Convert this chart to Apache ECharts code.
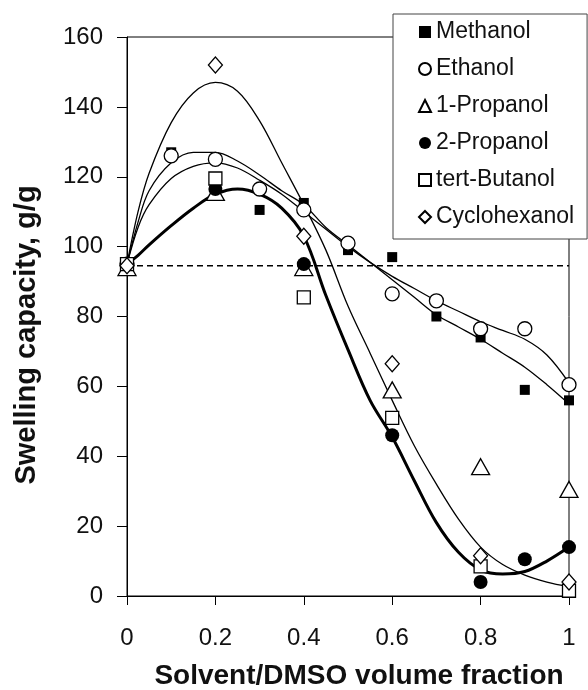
<!DOCTYPE html>
<html>
<head>
<meta charset="utf-8">
<script src="https://cdn.jsdelivr.net/npm/echarts@6.0.0/dist/echarts.min.js"></script>
<style>
html,body{margin:0;padding:0;background:#fff;}
#main{width:588px;height:690px;}
</style>
</head>
<body>
<div id="main"></div>
<script>
// measured points
var methanol = [[0,95],[0.1,127],[0.2,116.5],[0.3,110.5],[0.4,112.5],[0.5,99],[0.6,97],[0.7,80],[0.8,74],[0.9,59],[1,56]];
var ethanol = [[0,95],[0.1,126],[0.2,125],[0.3,116.5],[0.4,110.5],[0.5,101],[0.6,86.5],[0.7,84.5],[0.8,76.5],[0.9,76.5],[1,60.5]];
var propanol1 = [[0,94],[0.2,115.5],[0.4,94],[0.6,59],[0.8,37],[1,30.5]];
var propanol2 = [[0,95],[0.2,116.5],[0.4,95],[0.6,46],[0.8,4],[0.9,10.5],[1,14]];
var butanol = [[0,95],[0.2,119.5],[0.4,85.5],[0.6,51],[0.8,8.5],[1,1.5]];
var cyclohex = [[0,94.5],[0.2,152],[0.4,103],[0.6,66.5],[0.8,11.5],[1,4]];

// fitted curves
var fitX = [0,0.025,0.05,0.1,0.15,0.2,0.25,0.3,0.35,0.4,0.45,0.5,0.55,0.6,0.65,0.7,0.75,0.8,0.85,0.9,0.95,1];
var methanolFit = [95,107,116,124,127,127,124.5,120.5,116,112,105.5,100.5,95.5,90.5,85.5,80.5,77,73.5,69.5,65.5,60.5,55];
var ethanolFit = [95,105.5,112,119.5,123,124,122.5,119,115,110,105,100,95.5,91.5,88,84.5,81.5,78.5,76,73.5,69,61];
var cyclohexFit = [95,110,121,135.5,144,147,144.5,136,124,112,99,83,69.5,56,43,32,22,14,9,6,4,2.7];
var propanol2Fit = [95,97.5,100.5,106,111,115,116.5,115,111,103,86,70.5,56,45.5,33,21,12.5,7.5,6.3,7,10,14];

var refLevel = 94.5;
var xTicks = [0,0.2,0.4,0.6,0.8,1];

var legendNames = ['Methanol','Ethanol','1-Propanol','2-Propanol','tert-Butanol','Cyclohexanol'];

function pairs(xs, ys){
	var out = [];
	for(var i=0;i<xs.length;i++){
		out.push([xs[i], ys[i]]);
	}
	return out;
}

function pointSeries(name, data, symbol, size, filled){
	return {
		name : name,
		type : 'scatter',
		data : data,
		symbol : symbol,
		symbolSize : size,
		z : 5,
		emphasis : { disabled : true },
		itemStyle : {
			color : filled ? '#000' : '#fff',
			borderColor : '#000',
			borderWidth : filled ? 0 : 1.3,
			opacity : 1
		}
	};
}

function fitSeries(name, ys, width){
	return {
		name : name,
		type : 'line',
		data : pairs(fitX, ys),
		smooth : 0.35,
		showSymbol : false,
		symbol : 'none',
		z : 3,
		lineStyle : {
			color : '#000',
			width : width
		}
	};
}

var myChart = echarts.init(document.getElementById('main'));
var txt = '#111';
var option = {
	animation : false,
	backgroundColor : '#fff',
	textStyle : {
		fontFamily : 'Liberation Sans, Arial, sans-serif'
	},
	grid : {
		left : 127,
		right : 19,
		top : 37,
		bottom : 94,
		show : true,
		borderColor : '#000',
		borderWidth : 1,
		outerBoundsMode : 'none'
	},
	legend : {
		data : legendNames,
		orient : 'vertical',
		left : 393,
		top : 14,
		padding : [6, 13, 10, 25],
		itemWidth : 12,
		itemHeight : 12,
		itemGap : 13,
		selectedMode : false,
		backgroundColor : '#fff',
		borderColor : '#444',
		borderWidth : 1,
		borderRadius : 0,
		textStyle : {
			fontSize : 23,
			lineHeight : 24,
			color : txt,
			fontFamily : 'Liberation Sans, Arial, sans-serif'
		}
	},
	xAxis : {
		type : 'value',
		min : 0,
		max : 1,
		interval : 0.2,
		name : 'Solvent/DMSO volume fraction',
		nameLocation : 'middle',
		nameGap : 66,
		nameTextStyle : {
			fontSize : 28,
			fontWeight : 'bold',
			color : txt,
			padding : [0, 0, 0, 22]
		},
		axisLine : { show : true, onZero : false, lineStyle : { color : '#000', width : 1 } },
		axisTick : { show : true, length : 9, lineStyle : { color : '#000' } },
		axisLabel : {
			fontSize : 24,
			color : txt,
			margin : 30,
			formatter : function(v){ return xTicks.indexOf(v) >= 0 ? String(v) : ''; }
		},
		splitLine : { show : false }
	},
	yAxis : {
		type : 'value',
		min : 0,
		max : 160,
		interval : 20,
		name : 'Swelling capacity, g/g',
		nameLocation : 'middle',
		nameGap : 86,
		nameTextStyle : {
			fontSize : 29,
			fontWeight : 'bold',
			color : txt,
			padding : [0, 37, 0, 0]
		},
		axisLine : { show : true, lineStyle : { color : '#000', width : 1 } },
		axisTick : { show : true, length : 10, lineStyle : { color : '#000' } },
		axisLabel : { fontSize : 24, color : txt, margin : 24 },
		splitLine : { show : false }
	},
	series : [
		{
			name : 'ref',
			type : 'line',
			data : [[0, refLevel], [1, refLevel]],
			symbol : 'none',
			z : 2,
			lineStyle : { color : '#000', width : 1.5, type : [6, 4] }
		},
		fitSeries('Methanol fit', methanolFit, 1.3),
		fitSeries('Ethanol fit', ethanolFit, 1.3),
		fitSeries('Cyclohexanol fit', cyclohexFit, 1.3),
		fitSeries('2-Propanol fit', propanol2Fit, 3),
		pointSeries('Methanol', methanol, 'rect', 10, true),
		pointSeries('Ethanol', ethanol, 'circle', 14, false),
		pointSeries('1-Propanol', propanol1, 'triangle', [18, 16], false),
		pointSeries('2-Propanol', propanol2, 'circle', 14, true),
		pointSeries('tert-Butanol', butanol, 'rect', 13, false),
		pointSeries('Cyclohexanol', cyclohex, 'diamond', [14, 16], false)
	]
};
myChart.setOption(option);
</script>
</body>
</html>
